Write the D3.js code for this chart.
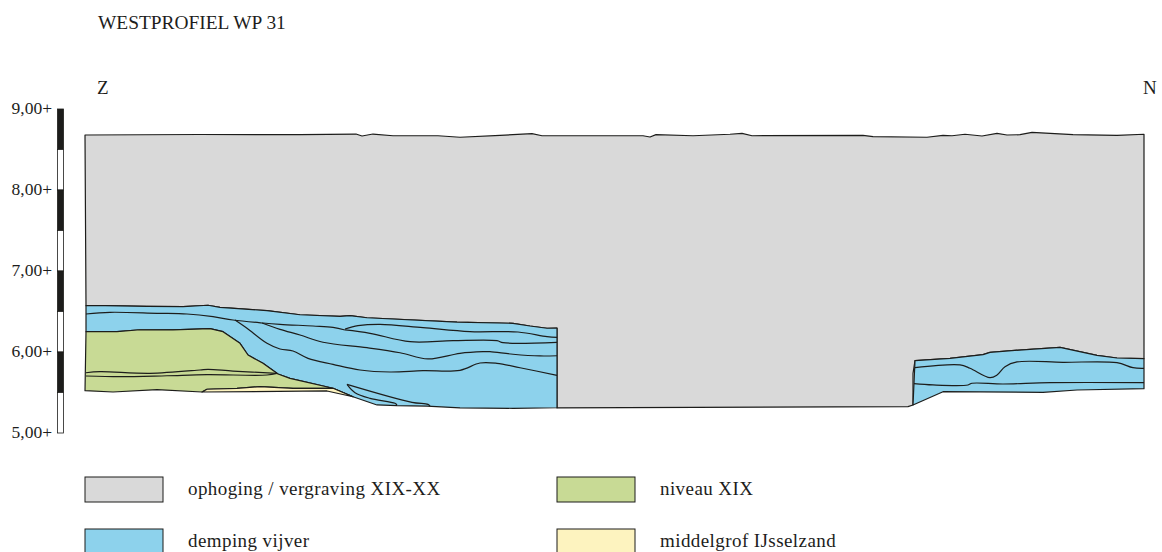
<!DOCTYPE html>
<html>
<head>
<meta charset="utf-8">
<script src="https://cdn.jsdelivr.net/npm/d3@7"></script>
<style>
  html, body { margin: 0; padding: 0; background: #fff; overflow: hidden; }
  svg { display: block; }
  text { font-family: "Liberation Serif", serif; fill: #1d1d1b; }
</style>
</head>
<body>
<svg></svg>
<script>
// x = position along the profile (no unit printed on the drawing), h = height in m
const surface = [[0,8.679],[115,8.685],[215,8.683],[271,8.691],[277,8.667],[288,8.691],[308,8.670],[353,8.670],[375,8.651],[415,8.675],[447,8.695],[457,8.670],[558,8.670],[565,8.654],[571,8.683],[608,8.670],[645,8.688],[657,8.700],[667,8.670],[778,8.675],[788,8.658],[842,8.651],[858,8.675],[867,8.670],[880,8.688],[897,8.667],[912,8.700],[922,8.679],[935,8.683],[947,8.712],[988,8.683],[1032,8.675],[1059,8.688]];

const southTop = [[1,6.572],[20,6.572],[62,6.564],[98,6.559],[123,6.577],[135,6.552],[182,6.510],[215,6.460],[255,6.441],[265,6.448],[282,6.423],[372,6.370],[428,6.354],[445,6.321],[462,6.293],[472,6.296]];
const southFloor = [[1,6.251],[32,6.251],[55,6.275],[88,6.272],[125,6.288],[138,6.251],[155,6.107],[163,5.963],[178,5.860],[193,5.728],[205,5.675],[248,5.552],[268,5.448],[292,5.346],[312,5.337],[342,5.333],[375,5.309],[428,5.305],[472,5.312]];
const greyFloor = [[828,5.737],[828,5.346],[823,5.325],[472,5.309]];

const northTop = [[830,5.893],[865,5.922],[898,5.967],[905,5.996],[945,6.033],[975,6.058],[1012,5.959],[1032,5.926],[1059,5.917]];
const northFloor = [[828,5.346],[858,5.510],[958,5.502],[992,5.531],[1059,5.547]];

const greenBase = [[0,5.522],[28,5.506],[72,5.535],[117,5.506]];
const sandTop = [[117,5.506],[122,5.540],[152,5.552],[175,5.572],[208,5.552],[248,5.552],[268,5.448]];
const sandBase = [[117,5.506],[242,5.519],[268,5.448]];

const greenLines = [
  [[1,5.744],[15,5.757],[65,5.737],[115,5.778],[123,5.786],[148,5.765],[192,5.737]],
  [[1,5.704],[35,5.695],[82,5.707],[122,5.720],[182,5.716],[192,5.737]]
];
const blueLines = [
  [[1,6.469],[25,6.490],[72,6.478],[102,6.469],[128,6.436],[148,6.395],[178,6.358],[195,6.342],[228,6.321],[248,6.305],[260,6.272]],
  [[260,6.284],[273,6.325],[295,6.342],[338,6.300],[385,6.251],[433,6.247],[462,6.189],[472,6.181]],
  [[260,6.272],[285,6.231],[325,6.127],[368,6.140],[412,6.140],[418,6.115],[472,6.120]],
  [[177,6.358],[195,6.280],[215,6.210],[238,6.120],[282,6.053],[315,5.991],[343,5.914],[375,5.984],[398,6.004],[405,6.004],[428,5.972],[455,5.951],[472,5.954]],
  [[150,6.395],[162,6.293],[182,6.107],[195,6.037],[208,6.012],[223,5.922],[248,5.848],[275,5.778],[305,5.753],[338,5.769],[375,5.774],[395,5.864],[412,5.860],[435,5.806],[472,5.712]],
  [[262,5.601],[327,5.379],[343,5.354],[345,5.333]],
  [[262,5.601],[270,5.498],[285,5.428],[310,5.367],[312,5.346]],
  [[830,5.806],[875,5.840],[885,5.799],[905,5.683],[912,5.716],[920,5.819],[932,5.877],[978,5.873],[1032,5.868],[1048,5.806],[1059,5.799]],
  [[829,5.609],[848,5.593],[883,5.593],[887,5.614],[918,5.605],[965,5.621],[1059,5.621]]
];

const heightTicks = [9, 8, 7, 6, 5];
const barBreaks = [9, 8.5, 8, 7.5, 7, 6.5, 6, 5.5, 5];

const legendLabels = ["ophoging / vergraving XIX-XX", "demping vijver", "niveau XIX", "middelgrof IJsselzand"];
const legendColors = ["#d9d9d9", "#8dd2ec", "#c8da95", "#fdf3bf"];

const width = 1162;
const height = 552;
const ink = "#1d1d1b";

const x = d3.scaleLinear().domain([0, 1059]).range([85, 1144]);
const y = d3.scaleLinear().domain([5, 9]).range([433, 109]);

const svg = d3.select("svg").attr("width", width).attr("height", height);

const line = d3.line().curve(d3.curveCatmullRom.alpha(0.5)).x(d => x(d[0])).y(d => y(d[1]));
const straight = d3.line().x(d => x(d[0])).y(d => y(d[1]));
const rev = a => a.slice().reverse();

function area(points, fill) {
  svg.append("path")
     .attr("d", straight(points) + "Z")
     .attr("fill", fill)
     .attr("stroke", ink)
     .attr("stroke-width", 1.2)
     .attr("stroke-linejoin", "round");
}

// Layers, back to front
area([...surface, ...rev(northTop), ...greyFloor, ...rev(southTop)], legendColors[0]);
area([...southTop, ...rev(southFloor)], legendColors[1]);
area([...northTop, ...rev(northFloor)], legendColors[1]);
area([...southFloor.slice(0, 13), ...rev(sandTop), ...rev(greenBase)], legendColors[2]);
area([...sandTop, ...rev(sandBase)], legendColors[3]);

svg.selectAll(".inner")
   .data([...greenLines, ...blueLines])
   .enter()
   .append("path")
   .attr("class", "inner")
   .attr("d", line)
   .attr("fill", "none")
   .attr("stroke", ink)
   .attr("stroke-width", 1.2);

// Height bar
svg.selectAll(".bar")
   .data(d3.pairs(barBreaks))
   .enter()
   .append("rect")
   .attr("class", "bar")
   .attr("x", 57.5)
   .attr("width", 6)
   .attr("y", d => y(d[0]))
   .attr("height", d => y(d[1]) - y(d[0]))
   .attr("fill", (d, i) => (i % 2 ? "#fff" : ink))
   .attr("stroke", ink)
   .attr("stroke-width", 0.8);

const yAxis = d3.axisLeft(y)
  .tickValues(heightTicks)
  .tickSize(0)
  .tickPadding(5)
  .tickFormat(d => d.toFixed(2).replace(".", ",") + "+");

const axisG = svg.append("g").attr("transform", "translate(57, 0)").call(yAxis);
axisG.select(".domain").remove();
axisG.selectAll("text")
     .style("font-family", '"Liberation Serif", serif')
     .style("font-size", "17.5px")
     .attr("dy", "0.24em")
     .attr("fill", ink);

// Labels
svg.append("text").attr("x", 98).attr("y", 29).attr("font-size", 19.4).text("WESTPROFIEL WP 31");
svg.append("text").attr("x", 97).attr("y", 94).attr("font-size", 19).text("Z");
svg.append("text").attr("x", 1143).attr("y", 94).attr("font-size", 19).text("N");

// Legend
const legendX = [85, 85, 557, 557];
const legendY = [477, 529, 477, 529];
const legend = svg.selectAll(".legend")
  .data(legendLabels)
  .enter()
  .append("g")
  .attr("class", "legend")
  .attr("transform", (d, i) => `translate(${legendX[i]}, ${legendY[i]})`);

legend.append("rect")
      .attr("width", 78)
      .attr("height", 25)
      .attr("fill", (d, i) => legendColors[i])
      .attr("stroke", ink)
      .attr("stroke-width", 1);

legend.append("text")
      .attr("x", 103)
      .attr("y", 18)
      .attr("font-size", 19)
      .attr("letter-spacing", 0.42)
      .text(d => d);
</script>
</body>
</html>
